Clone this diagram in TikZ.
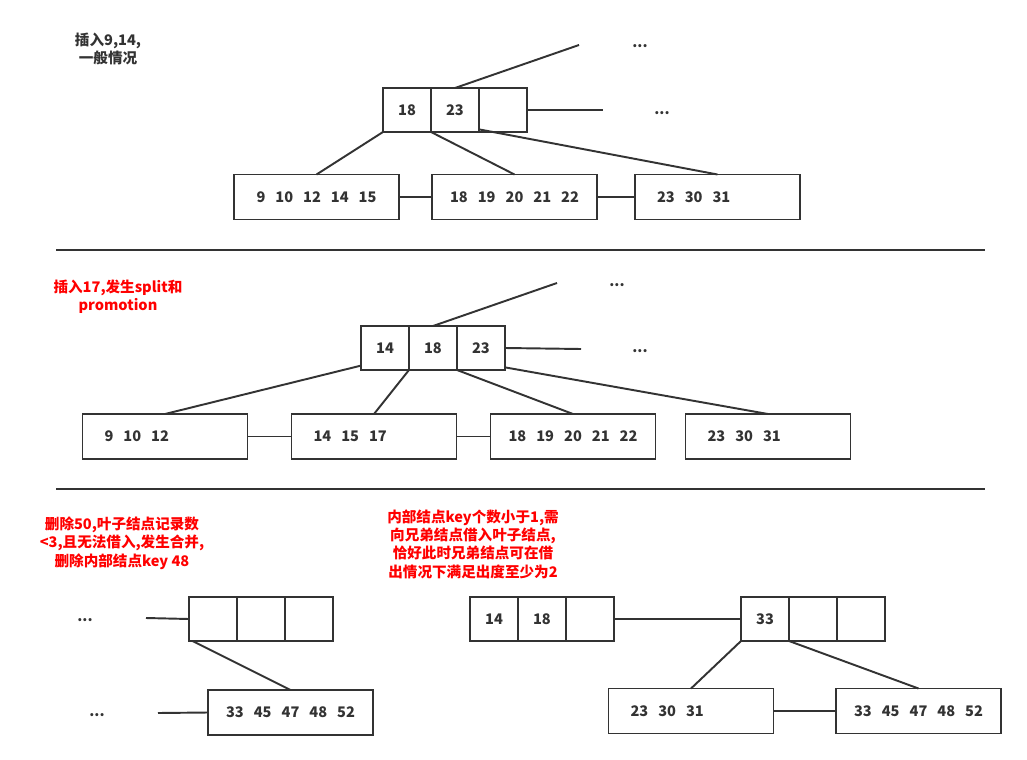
\documentclass[tikz,border=0pt]{standalone}
\usepackage{fontspec}
\setmainfont{Noto Sans CJK SC}
\usetikzlibrary{positioning}
\definecolor{ink}{HTML}{333333}
\tikzset{
  cell/.style={draw=ink,line width=1.1pt,minimum width=0.96cm,minimum height=0.88cm,inner sep=0pt,outer sep=0pt,text=ink},
  leaf/.style={draw=ink,line width=1.1pt,minimum width=3.3cm,minimum height=0.9cm,inner sep=0pt,outer sep=0pt,text=ink},
  leafl/.style={leaf,text width=2.42cm,inner xsep=0.44cm,align=left},
  note/.style={align=center,text=ink},
  rednote/.style={align=center,text=red},
  dots/.style={text=ink},
  edge/.style={draw=ink,line width=1.1pt}
}
\newcommand{\kgap}{\hspace{0.2cm}}
\begin{document}
\begin{tikzpicture}[x=0.02cm,y=-0.02cm,font=\fontsize{8.3}{10.4}\selectfont\bfseries]
\useasboundingbox (0,0) rectangle (1027,760);
% insert 9,14
\node[note] (t1) at (108,49) {插入9,14,\\一般情况};
\node[cell] (a1) at (407,110) {18};
\node[cell,right=0pt of a1] (a2) {23};
\node[cell,right=0pt of a2] (a3) {};
\node[leaf] (b1) at (316.5,197) {9\kgap10\kgap12\kgap14\kgap15};
\node[leaf] (b2) at (514.5,197) {18\kgap19\kgap20\kgap21\kgap22};
\node[leafl] (b3) at (717.5,197) {23\kgap30\kgap31};
\coordinate (a0) at (579,45);
\coordinate (a4) at (603,110);
\node[dots] (d1) at (640,46) {...};
\node[dots] (d2) at (662,113) {...};
\draw[edge] (a2.north) -- (a0);
\draw[edge] (a3.east) -- (a4);
\draw[edge] (a1.south west) -- (b1.north);
\draw[edge] (a2.south west) -- (b2.north);
\draw[edge] ([yshift=1.5pt]a3.south west) -- (b3.north);
\draw[edge] (b1.east) -- (b2.west);
\draw[edge] (b2.east) -- (b3.west);
\draw[ink,line width=1.1pt] (56,250) -- (985,250);
% insert 17
\node[rednote] (t2) at (118,297) {插入17,发生split和\\promotion};
\node[cell] (c1) at (385,348) {14};
\node[cell,right=0pt of c1] (c2) {18};
\node[cell,right=0pt of c2] (c3) {23};
\node[leafl] (e1) at (165,436.5) {9\kgap10\kgap12};
\node[leafl] (e2) at (374,436.5) {14\kgap15\kgap17};
\node[leaf] (e3) at (573,436.5) {18\kgap19\kgap20\kgap21\kgap22};
\node[leafl] (e4) at (768,436.5) {23\kgap30\kgap31};
\coordinate (c0) at (557,283);
\coordinate (c4) at (581,349);
\node[dots] (d3) at (617,285) {...};
\node[dots] (d4) at (640,351) {...};
\draw[edge] (c2.north) -- (c0);
\draw[edge] (c3.east) -- (c4);
\draw[edge] ([yshift=2.5pt]c1.south west) -- (e1.north);
\draw[edge] (c2.south west) -- (e2.north);
\draw[edge] (c3.south west) -- (e3.north);
\draw[edge] ([yshift=1.5pt]c3.south east) -- (e4.north);
\draw[edge] (e1.east) -- (e2.west);
\draw[edge] (e2.east) -- (e3.west);
\draw[ink,line width=1.1pt] (56,489) -- (985,489);
% delete 50
\node[rednote] (t3) at (122,543) {删除50,叶子结点记录数\\<3,且无法借入,发生合并,\\删除内部结点key 48};
\node[rednote] (t4) at (473,544) {内部结点key个数小于1,需\\向兄弟结点借入叶子结点,\\恰好此时兄弟结点可在借\\出情况下满足出度至少为2};
\node[cell] (g1) at (213,619) {};
\node[cell,right=0pt of g1] (g2) {};
\node[cell,right=0pt of g2] (g3) {};
\node[leaf] (f1) at (290.5,712.5) {33\kgap45\kgap47\kgap48\kgap52};
\coordinate (g0) at (146,618);
\coordinate (f0) at (158,713);
\node[dots] (d5) at (85,620) {...};
\node[dots] (d6) at (97,715) {...};
\draw[edge] (g0) -- (g1.west);
\draw[edge] ([xshift=2pt]g1.south west) -- (f1.north);
\draw[edge] (f0) -- (f1.west);
\node[cell] (h1) at (494,619) {14};
\node[cell,right=0pt of h1] (h2) {18};
\node[cell,right=0pt of h2] (h3) {};
\node[cell] (k1) at (765,619) {33};
\node[cell,right=0pt of k1] (k2) {};
\node[cell,right=0pt of k2] (k3) {};
\node[leafl] (m1) at (691,711) {23\kgap30\kgap31};
\node[leaf] (m2) at (918.5,711) {33\kgap45\kgap47\kgap48\kgap52};
\draw[edge] (h3.east) -- (k1.west);
\draw[edge] (k1.south west) -- (m1.north);
\draw[edge] (k2.south west) -- (m2.north);
\draw[edge] (m1.east) -- (m2.west);
\end{tikzpicture}
\end{document}
